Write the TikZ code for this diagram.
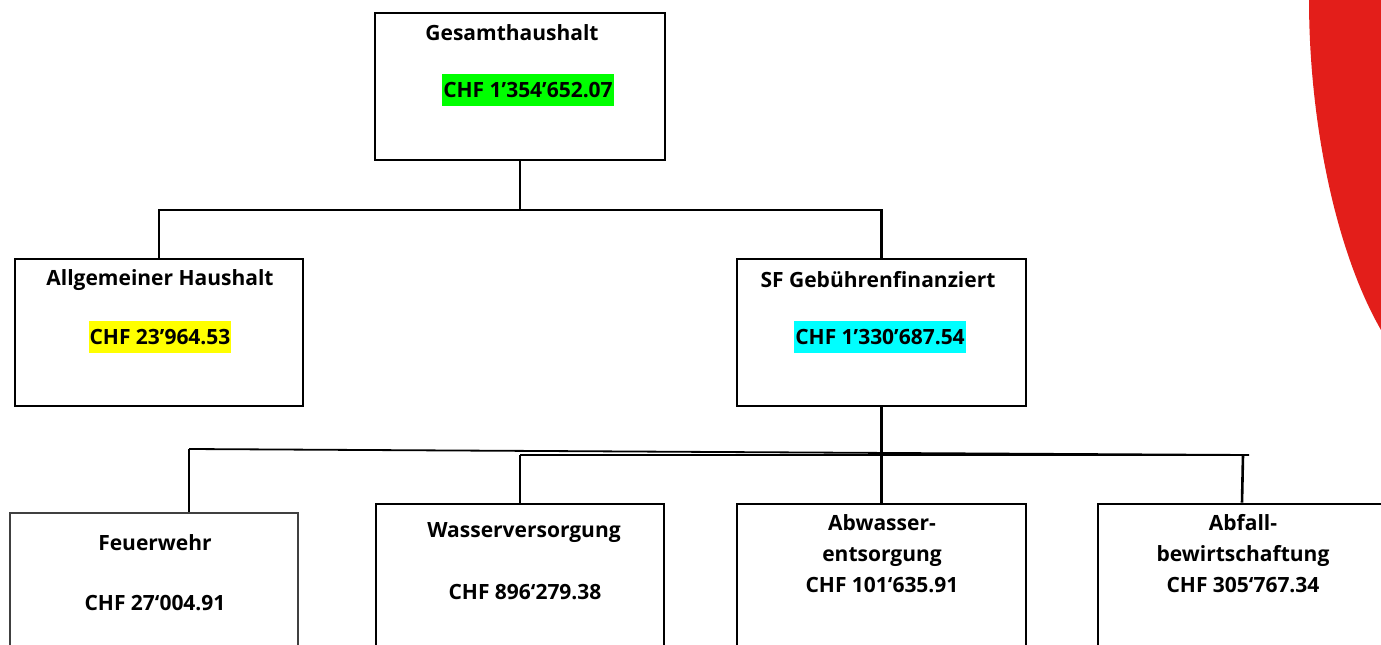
\documentclass[tikz,border=0pt]{standalone}
\usepackage{fontspec}
\setmainfont{Open Sans}
\definecolor{logored}{HTML}{E31E1A}
\definecolor{hlgreen}{HTML}{00FF00}
\definecolor{hlyellow}{HTML}{FFFF00}
\definecolor{hlcyan}{HTML}{00FFFF}
\tikzset{
  unitbox/.style={draw,line width=2.6pt,minimum width=288pt,minimum height=147pt,inner sep=0pt},
  thinbox/.style={draw=black!75,line width=1.5pt,minimum width=288pt,minimum height=147pt,inner sep=0pt},
  lbl/.style={font=\fontsize{21}{31}\selectfont\bfseries,align=center,inner sep=0pt},
  hl/.style={lbl,inner xsep=1pt,minimum height=32pt}
}
\begin{document}
\begin{tikzpicture}[x=1pt,y=-1pt,line width=2.6pt]
\useasboundingbox (0,0) rectangle (1381,645);
\clip (0,0) rectangle (1381,645);
\fill[logored] (1309,0) .. controls (1309,120) and (1335,250) .. (1381,330) -- (1381,0) -- cycle;

\node(gesamt) at (520,86.5)[unitbox,minimum width=290pt] {};
\node(allg) at (159,332.5)[unitbox] {};
\node(sf) at (881.5,332.5)[unitbox,minimum width=289pt] {};
\node(feuer) at (154,586.5)[thinbox] {};
\node(wasser) at (520,577.5)[unitbox] {};
\node(abwasser) at (881.5,577.5)[unitbox,minimum width=289pt] {};
\node(abfall) at (1242,577.5)[unitbox] {};

\node(gesamtname) at (512,33)[lbl] {Gesamthaushalt};
\node(gesamtchf) at (528,90)[hl,fill=hlgreen] {CHF 1’354’652.07};
\node(allgname) at (160,280)[lbl] {Allgemeiner Haushalt};
\node(allgchf) at (160,337)[hl,fill=hlyellow] {CHF 23’964.53};
\node(sfname) at (878,280)[lbl] {SF Gebührenfinanziert};
\node(sfchf) at (880,337)[hl,fill=hlcyan] {CHF 1’330’687.54};
\node(feuername) at (155,543)[lbl] {Feuerwehr};
\node(feuerchf) at (155,603)[lbl] {CHF 27‘004.91};
\node(wassername) at (524,533)[lbl] {Wasserversorgung};
\node(wasserchf) at (525,592)[lbl] {CHF 896‘279.38};
\node(abwassertxt) at (882,554)[lbl] {Abwasser-\\entsorgung\\CHF 101‘635.91};
\node(abfalltxt) at (1243,554)[lbl] {Abfall-\\bewirtschaftung\\CHF 305‘767.34};

\coordinate(top) at (520,210);
\coordinate(left) at (189,449);
\coordinate(right) at (1249,455);
\coordinate(mid) at (520,455);
\coordinate(end) at (1243,455);

\draw (gesamt.south) -- (top);
\draw (allg.north) |- (top) -| (sf.north);
\draw (sf.south) -- (abwasser.north);
\draw[line width=1.8pt] (left) -- (right);
\draw (mid) -- (end);
\draw[line width=1.8pt] (left) -- (left |- feuer.north);
\draw (wasser.north) -- (mid);
\draw (abfall.north) -- (end);
\end{tikzpicture}
\end{document}
